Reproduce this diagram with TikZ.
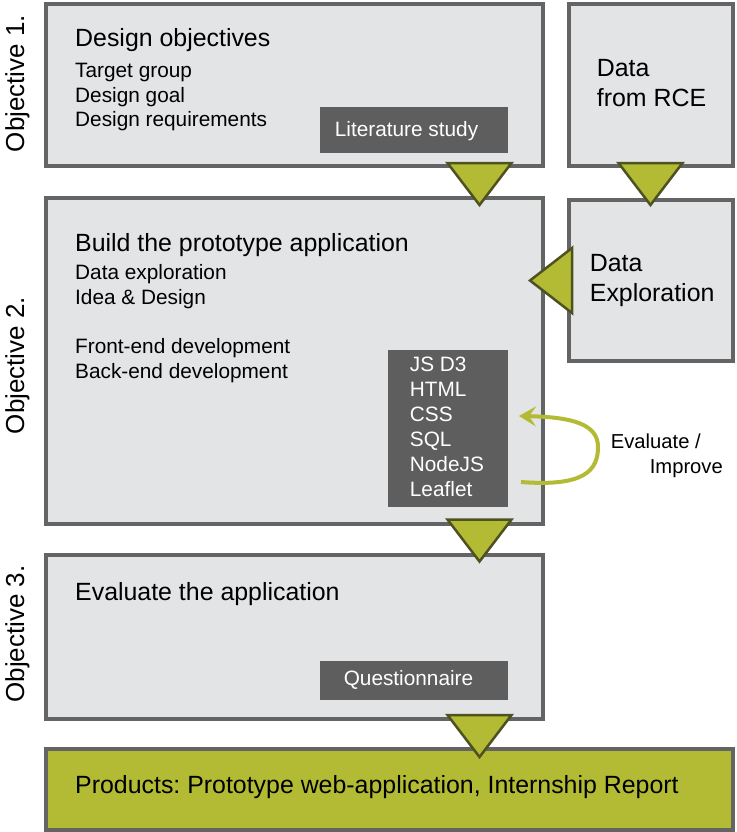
\documentclass[tikz,border=0pt]{standalone}
\usepackage{fontspec}
\setmainfont{Liberation Sans}
\usetikzlibrary{arrows.meta}
\frenchspacing
\definecolor{boxfill}{HTML}{E3E4E6}
\definecolor{boxline}{HTML}{646464}
\definecolor{olivefill}{HTML}{B2BB33}
\definecolor{oliveline}{HTML}{4E5222}
\definecolor{darkfill}{HTML}{5E5E5E}
\tikzset{
  box/.style={draw=boxline, fill=boxfill, line width=4pt, inner sep=0pt},
  prodbox/.style={draw=boxline, fill=olivefill, line width=4pt, inner sep=0pt},
  darkbox/.style={fill=darkfill, draw=none, inner sep=0pt},
  tri/.style={fill=olivefill, draw=oliveline, line width=2.5pt, line join=miter},
  txt/.style={anchor=base west, inner sep=0pt, text=black},
  ttl/.style={txt, font=\fontsize{24.9}{30}\selectfont},
  big/.style={txt, font=\fontsize{24.9}{30}\selectfont},
  bdy/.style={txt, font=\fontsize{20.8}{25}\selectfont},
  wtxt/.style={anchor=base west, inner sep=0pt, text=white, font=\fontsize{20.8}{25}\selectfont},
  evtxt/.style={txt, font=\fontsize{20.2}{24}\selectfont},
  objlbl/.style={anchor=base, rotate=90, inner sep=0pt, font=\fontsize{26}{30}\selectfont},
  loop/.style={draw=olivefill, line width=4pt, -{Stealth[length=17pt,width=20pt,inset=7pt]}}
}
\newcommand\downtri[2]{\draw[tri] (#1-32,#2) -- (#1+32,#2) -- (#1,#2+42) -- cycle;}
\begin{document}
\begin{tikzpicture}[x=1pt,y=-1pt]
\useasboundingbox (0,0) rectangle (736,832);
% main boxes
\node[box, minimum width=497pt, minimum height=161.5pt] (o1) at (294,84.75) {};
\node[box, minimum width=164pt, minimum height=161.5pt] (rce) at (650.5,84.75) {};
\node[box, minimum width=497pt, minimum height=326pt] (o2) at (294,361) {};
\node[box, minimum width=163.5pt, minimum height=161.5pt] (dex) at (650.75,280.25) {};
\node[box, minimum width=497pt, minimum height=164pt] (o3) at (294,637) {};
\node[prodbox, minimum width=687.5pt, minimum height=81pt] (prod) at (389.25,789.5) {};
% dark boxes
\node[darkbox, minimum width=188pt, minimum height=45.5pt] (lit) at (414,130.25) {};
\node[darkbox, minimum width=120pt, minimum height=157pt] (tech) at (448,428.5) {};
\node[darkbox, minimum width=188pt, minimum height=39pt] (quest) at (414,680.5) {};
% objective labels
\node[objlbl] (l1) at (24,83.5) {Objective 1.};
\node[objlbl] (l2) at (24,365.5) {Objective 2.};
\node[objlbl] (l3) at (24,634) {Objective 3.};
% objective 1 text
\node[ttl] (t1) at (75,46.5) {Design objectives};
\node[bdy] (t1a) at (75,78) {Target group};
\node[bdy] (t1b) at (75,102.3) {Design goal};
\node[bdy] (t1c) at (75,126.6) {Design requirements};
\node[wtxt, anchor=base] (tlit) at (406.5,136.5) {Literature study};
% data from RCE
\node[big] (r1) at (596.7,76.7) {Data};
\node[big] (r2) at (596.7,106.7) {from RCE};
% objective 2 text
\node[ttl] (t2) at (75,251.5) {Build the prototype application};
\node[bdy] (t2a) at (75,279) {Data exploration};
\node[bdy] (t2b) at (75,304) {Idea \& Design};
\node[bdy] (t2c) at (75,353) {Front-end development};
\node[bdy] (t2d) at (75,378) {Back-end development};
\node[wtxt] (k1) at (409.7,371.7) {JS D3};
\node[wtxt] (k2) at (409.7,396.7) {HTML};
\node[wtxt] (k3) at (409.7,421.7) {CSS};
\node[wtxt] (k4) at (409.7,446.7) {SQL};
\node[wtxt] (k5) at (409.7,471.7) {NodeJS};
\node[wtxt] (k6) at (409.7,496.7) {Leaflet};
% data exploration
\node[big] (d1) at (589.7,271.7) {Data};
\node[big] (d2) at (589.7,301.7) {Exploration};
% evaluate / improve
\node[evtxt] (e1) at (610.7,448.3) {Evaluate /};
\node[evtxt, anchor=base east] (e2) at (723,473.3) {Improve};
% objective 3 text
\node[ttl] (t3) at (75,600) {Evaluate the application};
\node[wtxt, anchor=base] (tq) at (408.5,685) {Questionnaire};
% products
\node[ttl] (tp) at (75,793.3) {Products: Prototype web-application, Internship Report};
% triangles
\downtri{479.5}{163}
\downtri{650.5}{163}
\downtri{479.5}{519.5}
\downtri{479.5}{715}
\draw[tri] (572,248) -- (572,313) -- (530,280.5) -- cycle;
% loop arrow
\coordinate (cs) at (521,482);
\coordinate (ce) at (519,416);
\draw[loop] (cs) .. controls (585,487) and (598,470) .. (598,447) .. controls (598,424) and (572,417) .. (ce);
\end{tikzpicture}
\end{document}
